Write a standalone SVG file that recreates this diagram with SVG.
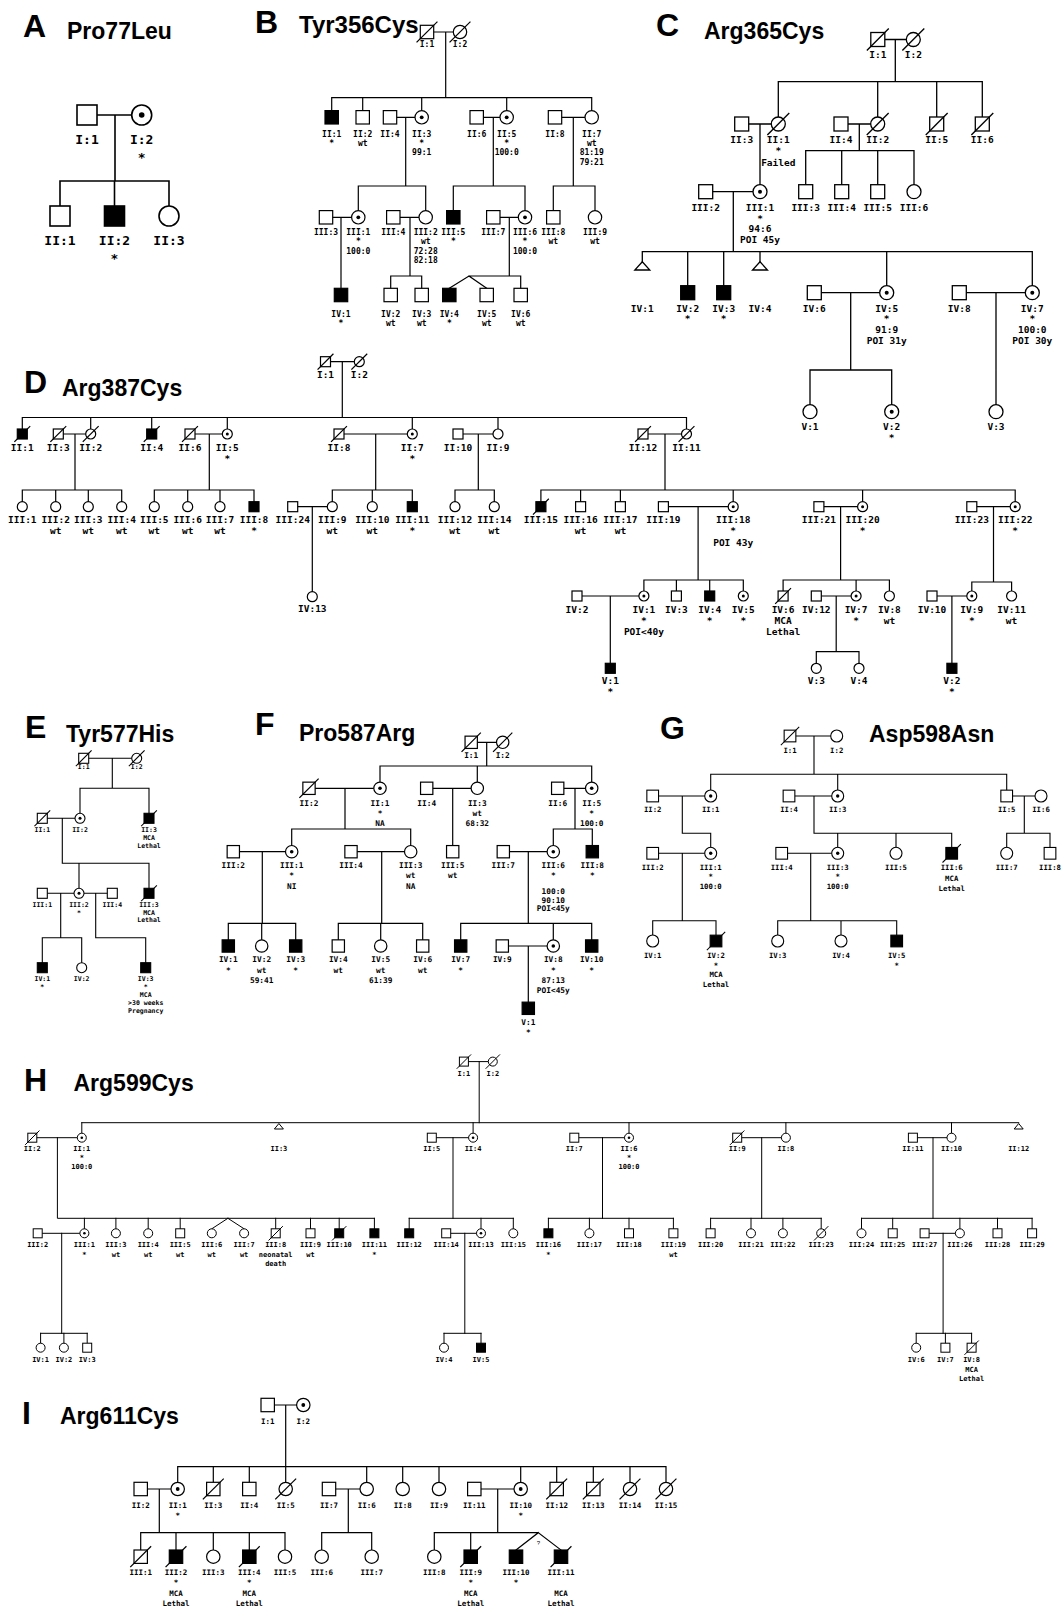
<svg xmlns="http://www.w3.org/2000/svg" width="1064" height="1613" viewBox="0 0 1064 1613">
<style>
text{font-family:"DejaVu Sans Mono","Liberation Mono",monospace;font-weight:bold;text-anchor:middle;fill:#000}
.hl,.hn{font-family:"Liberation Sans",Arial,sans-serif;text-anchor:start}
.hl{font-size:32px}
.hn{font-size:23px}
.q{font-family:"Liberation Sans",Arial,sans-serif;font-weight:normal;font-size:6px}
.ln{fill:none;stroke:#000;stroke-linecap:square}
.o{fill:#fff;stroke:#000}
.k{fill:#000;stroke:#000}
.d{fill:#000;stroke:none}
</style>
<defs>
<rect id="sqA" x="-10" y="-10" width="20" height="20"/>
<circle id="ciA" r="10"/>
<circle id="dtA" r="2.8"/>
<rect id="sqB" x="-6.7" y="-6.7" width="13.4" height="13.4"/>
<circle id="ciB" r="6.7"/>
<circle id="dtB" r="1.9"/>
<line id="slB" x1="-10" y1="10" x2="10" y2="-10"/>
<rect id="sqC" x="-7" y="-7" width="14" height="14"/>
<circle id="ciC" r="7"/>
<circle id="dtC" r="2"/>
<line id="slC" x1="-10.5" y1="10.5" x2="10.5" y2="-10.5"/>
<path id="triC" d="M0 0L7.5 8.3H-7.5Z"/>
<rect id="sqD" x="-5" y="-5" width="10" height="10"/>
<circle id="ciD" r="5"/>
<circle id="dtD" r="1.5"/>
<line id="slD" x1="-7.5" y1="7.5" x2="7.5" y2="-7.5"/>
<rect id="sqF" x="-6.15" y="-6.15" width="12.3" height="12.3"/>
<circle id="ciF" r="6.2"/>
<circle id="dtF" r="1.8"/>
<line id="slF" x1="-9.2" y1="9.2" x2="9.2" y2="-9.2"/>
<rect id="sqG" x="-5.85" y="-5.85" width="11.7" height="11.7"/>
<circle id="ciG" r="6"/>
<circle id="dtG" r="1.7"/>
<line id="slG" x1="-8.8" y1="8.8" x2="8.8" y2="-8.8"/>
<rect id="sqH" x="-4.5" y="-4.5" width="9" height="9"/>
<circle id="ciH" r="4.5"/>
<circle id="dtH" r="1.3"/>
<line id="slH" x1="-6.8" y1="6.8" x2="6.8" y2="-6.8"/>
<path id="triH" d="M0 0L4.5 5.5H-4.5Z"/>
</defs>
<rect width="1064" height="1613" fill="#fff"/>

<!-- ================= PANEL A ================= -->
<g id="panelA" style="stroke-width:1.6;font-size:13px">
<text class="hl" x="23" y="37">A</text>
<text class="hn" x="67" y="39">Pro77Leu</text>
<g id="A-links" class="ln"><path d="M97 115H131.7M115 115V181M60 181H169M60 181V206M114.5 181V206M169 181V206"/></g>
<g id="A-I1"><use href="#sqA" x="87" y="115" class="o"/><text x="87" y="144">I:1</text></g>
<g id="A-I2"><use href="#ciA" x="141.7" y="115" class="o"/><use href="#dtA" x="141.7" y="115" class="d"/><text x="141.7" y="144">I:2</text><text x="141.7" y="162">*</text></g>
<g id="A-II1"><use href="#sqA" x="60" y="216" class="o"/><text x="60" y="245">II:1</text></g>
<g id="A-II2"><use href="#sqA" x="114.5" y="216" class="k"/><text x="114.5" y="245">II:2</text><text x="114.5" y="263">*</text></g>
<g id="A-II3"><use href="#ciA" x="169" y="216" class="o"/><text x="169" y="245">II:3</text></g>
</g>

<!-- ================= PANEL B ================= -->
<g id="panelB" style="stroke-width:1.2;font-size:8px">
<text class="hl" x="255" y="33">B</text>
<text class="hn" x="299" y="33" style="font-size:24px">Tyr356Cys</text>
<g id="B-links" class="ln"><path d="M433.7 32H453.3M445.7 32V97.7M331.7 97.7H591.7M331.7 97.7V110.6M362.7 97.7V110.6M421.7 97.7V110.6M506.7 97.7V110.6M591.7 97.7V110.6M396.7 117.3H415M405.7 117.3V186M358.3 186H425.7M358.3 186V210.6M425.7 186V210.6M483.4 117.3H500M493.3 117.3V186M453.3 186H525M453.3 186V210.6M525 186V210.6M561.7 117.3H585M573.3 117.3V186M553.3 186H595M553.3 186V210.6M595 186V210.6M332.7 217.3H351.6M341 217.3V288.3M400 217.3H419M410 217.3V276M390.7 276H421.7M390.7 276V288.3M421.7 276V288.3M500 217.3H518.3M509.3 217.3V276M469 276H520.7M469 276L449.3 288.3M469 276L486.7 288.3M520.7 276V288.3"/></g>
<g id="B-I1"><use href="#sqB" x="427" y="32" class="o"/><use href="#slB" x="427" y="32" class="ln"/><text x="427" y="47.3">I:1</text></g>
<g id="B-I2"><use href="#ciB" x="460" y="32" class="o"/><use href="#slB" x="460" y="32" class="ln"/><text x="460" y="47.3">I:2</text></g>
<g id="B-II1"><use href="#sqB" x="331.7" y="117.3" class="k"/><text x="331.7" y="136.7">II:1</text><text x="331.7" y="146">*</text></g>
<g id="B-II2"><use href="#sqB" x="362.7" y="117.3" class="o"/><text x="362.7" y="136.7">II:2</text><text x="362.7" y="146">wt</text></g>
<g id="B-II4"><use href="#sqB" x="390" y="117.3" class="o"/><text x="390" y="136.7">II:4</text></g>
<g id="B-II3"><use href="#ciB" x="421.7" y="117.3" class="o"/><use href="#dtB" x="421.7" y="117.3" class="d"/><text x="421.7" y="136.7">II:3</text><text x="421.7" y="146">*</text><text x="421.7" y="155.3">99:1</text></g>
<g id="B-II6"><use href="#sqB" x="476.7" y="117.3" class="o"/><text x="476.7" y="136.7">II:6</text></g>
<g id="B-II5"><use href="#ciB" x="506.7" y="117.3" class="o"/><use href="#dtB" x="506.7" y="117.3" class="d"/><text x="506.7" y="136.7">II:5</text><text x="506.7" y="146">*</text><text x="506.7" y="155.3">100:0</text></g>
<g id="B-II8"><use href="#sqB" x="555" y="117.3" class="o"/><text x="555" y="136.7">II:8</text></g>
<g id="B-II7"><use href="#ciB" x="591.7" y="117.3" class="o"/><text x="591.7" y="136.7">II:7</text><text x="591.7" y="146">wt</text><text x="591.7" y="155.3">81:19</text><text x="591.7" y="164.6">79:21</text></g>
<g id="B-III3"><use href="#sqB" x="326" y="217.3" class="o"/><text x="326" y="235">III:3</text></g>
<g id="B-III1"><use href="#ciB" x="358.3" y="217.3" class="o"/><use href="#dtB" x="358.3" y="217.3" class="d"/><text x="358.3" y="235">III:1</text><text x="358.3" y="244.3">*</text><text x="358.3" y="253.6">100:0</text></g>
<g id="B-III4"><use href="#sqB" x="393.3" y="217.3" class="o"/><text x="393.3" y="235">III:4</text></g>
<g id="B-III2"><use href="#ciB" x="425.7" y="217.3" class="o"/><text x="425.7" y="235">III:2</text><text x="425.7" y="244.3">wt</text><text x="425.7" y="253.6">72:28</text><text x="425.7" y="262.9">82:18</text></g>
<g id="B-III5"><use href="#sqB" x="453.3" y="217.3" class="k"/><text x="453.3" y="235">III:5</text><text x="453.3" y="244.3">*</text></g>
<g id="B-III7"><use href="#sqB" x="493.3" y="217.3" class="o"/><text x="493.3" y="235">III:7</text></g>
<g id="B-III6"><use href="#ciB" x="525" y="217.3" class="o"/><use href="#dtB" x="525" y="217.3" class="d"/><text x="525" y="235">III:6</text><text x="525" y="244.3">*</text><text x="525" y="253.6">100:0</text></g>
<g id="B-III8"><use href="#sqB" x="553.3" y="217.3" class="o"/><text x="553.3" y="235">III:8</text><text x="553.3" y="244.3">wt</text></g>
<g id="B-III9"><use href="#ciB" x="595" y="217.3" class="o"/><text x="595" y="235">III:9</text><text x="595" y="244.3">wt</text></g>
<g id="B-IV1"><use href="#sqB" x="341" y="295" class="k"/><text x="341" y="316.7">IV:1</text><text x="341" y="325.5">*</text></g>
<g id="B-IV2"><use href="#sqB" x="390.7" y="295" class="o"/><text x="390.7" y="316.7">IV:2</text><text x="390.7" y="325.5">wt</text></g>
<g id="B-IV3"><use href="#sqB" x="421.7" y="295" class="o"/><text x="421.7" y="316.7">IV:3</text><text x="421.7" y="325.5">wt</text></g>
<g id="B-IV4"><use href="#sqB" x="449.3" y="295" class="k"/><text x="449.3" y="316.7">IV:4</text><text x="449.3" y="325.5">*</text></g>
<g id="B-IV5"><use href="#sqB" x="486.7" y="295" class="o"/><text x="486.7" y="316.7">IV:5</text><text x="486.7" y="325.5">wt</text></g>
<g id="B-IV6"><use href="#sqB" x="520.7" y="295" class="o"/><text x="520.7" y="316.7">IV:6</text><text x="520.7" y="325.5">wt</text></g>
</g>

<!-- ================= PANEL C ================= -->
<g id="panelC" style="stroke-width:1.3;font-size:9.5px">
<text class="hl" x="656" y="36">C</text>
<text class="hn" x="704" y="39">Arg365Cys</text>
<g id="C-links" class="ln"><path d="M884.8 39.5H906.3M895.3 39.5V81.7M778.3 81.7H982.3M778.3 81.7V117M877.7 81.7V117M936.7 81.7V117M982.3 81.7V117M748.7 124H771.3M760 124V184.7M848 124H870.7M859.3 124V150.7M805.7 150.7H914M805.7 150.7V184.7M841.7 150.7V184.7M877.7 150.7V184.7M914 150.7V184.7M712.7 191.7H753M733.3 191.7V251.7M642.3 251.7H1032.3M642.3 251.7V261.7M687.7 251.7V285.7M723.7 251.7V285.7M760 251.7V261.7M886.7 251.7V285.7M1032.3 251.7V285.7M821.3 292.7H879.7M850.7 292.7V370M810 370H891.7M810 370V404.7M891.7 370V404.7M966.3 292.7H1025.3M996 292.7V404.7"/></g>
<g id="C-I1"><use href="#sqC" x="877.8" y="39.5" class="o"/><use href="#slC" x="877.8" y="39.5" class="ln"/><text x="877.8" y="58.3">I:1</text></g>
<g id="C-I2"><use href="#ciC" x="913.3" y="39.5" class="o"/><use href="#slC" x="913.3" y="39.5" class="ln"/><text x="913.3" y="58.3">I:2</text></g>
<g id="C-II3"><use href="#sqC" x="741.7" y="124" class="o"/><text x="741.7" y="142.7">II:3</text></g>
<g id="C-II1"><use href="#ciC" x="778.3" y="124" class="o"/><use href="#slC" x="778.3" y="124" class="ln"/><text x="778.3" y="142.7">II:1</text><text x="778.3" y="154">*</text><text x="778.3" y="165.5">Failed</text></g>
<g id="C-II4"><use href="#sqC" x="841" y="124" class="o"/><text x="841" y="142.7">II:4</text></g>
<g id="C-II2"><use href="#ciC" x="877.7" y="124" class="o"/><use href="#slC" x="877.7" y="124" class="ln"/><text x="877.7" y="142.7">II:2</text></g>
<g id="C-II5"><use href="#sqC" x="936.7" y="124" class="o"/><use href="#slC" x="936.7" y="124" class="ln"/><text x="936.7" y="142.7">II:5</text></g>
<g id="C-II6"><use href="#sqC" x="982.3" y="124" class="o"/><use href="#slC" x="982.3" y="124" class="ln"/><text x="982.3" y="142.7">II:6</text></g>
<g id="C-III2"><use href="#sqC" x="705.7" y="191.7" class="o"/><text x="705.7" y="210.7">III:2</text></g>
<g id="C-III1"><use href="#ciC" x="760" y="191.7" class="o"/><use href="#dtC" x="760" y="191.7" class="d"/><text x="760" y="210.7">III:1</text><text x="760" y="221.5">*</text><text x="760" y="232.3">94:6</text><text x="760" y="243.3">POI 45y</text></g>
<g id="C-III3"><use href="#sqC" x="805.7" y="191.7" class="o"/><text x="805.7" y="210.7">III:3</text></g>
<g id="C-III4"><use href="#sqC" x="841.7" y="191.7" class="o"/><text x="841.7" y="210.7">III:4</text></g>
<g id="C-III5"><use href="#sqC" x="877.7" y="191.7" class="o"/><text x="877.7" y="210.7">III:5</text></g>
<g id="C-III6"><use href="#ciC" x="914" y="191.7" class="o"/><text x="914" y="210.7">III:6</text></g>
<g id="C-IV1"><use href="#triC" x="642.3" y="261.7" class="o"/><text x="642.3" y="311.7">IV:1</text></g>
<g id="C-IV2"><use href="#sqC" x="687.7" y="292.7" class="k"/><text x="687.7" y="311.7">IV:2</text><text x="687.7" y="322">*</text></g>
<g id="C-IV3"><use href="#sqC" x="723.7" y="292.7" class="k"/><text x="723.7" y="311.7">IV:3</text><text x="723.7" y="322">*</text></g>
<g id="C-IV4"><use href="#triC" x="760" y="261.7" class="o"/><text x="760" y="311.7">IV:4</text></g>
<g id="C-IV6"><use href="#sqC" x="814.3" y="292.7" class="o"/><text x="814.3" y="311.7">IV:6</text></g>
<g id="C-IV5"><use href="#ciC" x="886.7" y="292.7" class="o"/><use href="#dtC" x="886.7" y="292.7" class="d"/><text x="886.7" y="311.7">IV:5</text><text x="886.7" y="322">*</text><text x="886.7" y="333.3">91:9</text><text x="886.7" y="344.3">POI 31y</text></g>
<g id="C-IV8"><use href="#sqC" x="959.3" y="292.7" class="o"/><text x="959.3" y="311.7">IV:8</text></g>
<g id="C-IV7"><use href="#ciC" x="1032.3" y="292.7" class="o"/><use href="#dtC" x="1032.3" y="292.7" class="d"/><text x="1032.3" y="311.7">IV:7</text><text x="1032.3" y="322">*</text><text x="1032.3" y="333.3">100:0</text><text x="1032.3" y="344.3">POI 30y</text></g>
<g id="C-V1"><use href="#ciC" x="810" y="411.7" class="o"/><text x="810" y="430">V:1</text></g>
<g id="C-V2"><use href="#ciC" x="891.7" y="411.7" class="o"/><use href="#dtC" x="891.7" y="411.7" class="d"/><text x="891.7" y="430">V:2</text><text x="891.7" y="441">*</text></g>
<g id="C-V3"><use href="#ciC" x="996" y="411.7" class="o"/><text x="996" y="430">V:3</text></g>
</g>

<!-- ================= PANEL D ================= -->
<g id="panelD" style="stroke-width:1.2;font-size:9.5px">
<text class="hl" x="24" y="393">D</text>
<text class="hn" x="62" y="396">Arg387Cys</text>
<g id="D-links" class="ln"><path d="M330.5 361.7H354.3M342.3 361.7V417.5M22.3 417.5H686.5M22.3 417.5V429M90.7 417.5V429M151.7 417.5V429M227.3 417.5V429M412.3 417.5V429M498 417.5V429M686.5 417.5V429M63.3 434H85.7M75 434V490M22.3 490H121.7M22.3 490V501.7M55.7 490V501.7M88.3 490V501.7M121.7 490V501.7M195 434H222.3M209.3 434V490M154.3 490H254M154.3 490V501.7M187.7 490V501.7M220 490V501.7M254 490V501.7M344 434H407.3M375.7 434V490M332.3 490H412.3M332.3 490V501.7M372.3 490V501.7M412.3 490V501.7M463 434H493M478.3 434V490M455 490H494.3M455 490V501.7M494.3 490V501.7M648 434H681.5M665 434V490M540.9 490H1015.2M540.9 490V501.7M580.6 490V501.7M620.4 490V501.7M733.2 490V501.7M862.6 490V501.7M1015.2 490V501.7M297.7 506.7H327.3M312.3 506.7V591.7M668.4 506.7H728.2M698.1 506.7V580M643.9 580H743.3M643.9 580V591M676.4 580V591M709.7 580V591M743.3 580V591M823.9 506.7H857.6M840.6 506.7V580M783.1 580H889.4M783.1 580V591M856.1 580V591M889.4 580V591M976.8 506.7H1010.2M993.5 506.7V582M971.8 582H1011.6M971.8 582V591M1011.6 582V591M582 596H638.9M610.3 596V663.3M821.3 596H851.1M836.2 596V651.7M816.3 651.7H859M816.3 651.7V663.3M859 651.7V663.3M937 596H966.8M951.9 596V663.3"/></g>
<g id="D-I1"><use href="#sqD" x="325.5" y="361.7" class="o"/><use href="#slD" x="325.5" y="361.7" class="ln"/><text x="325.5" y="378">I:1</text></g>
<g id="D-I2"><use href="#ciD" x="359.3" y="361.7" class="o"/><use href="#slD" x="359.3" y="361.7" class="ln"/><text x="359.3" y="378">I:2</text></g>
<g id="D-II1"><use href="#sqD" x="22.3" y="434" class="k"/><use href="#slD" x="22.3" y="434" class="ln"/><text x="22.3" y="450.7">II:1</text></g>
<g id="D-II3"><use href="#sqD" x="58.3" y="434" class="o"/><use href="#slD" x="58.3" y="434" class="ln"/><text x="58.3" y="450.7">II:3</text></g>
<g id="D-II2"><use href="#ciD" x="90.7" y="434" class="o"/><use href="#slD" x="90.7" y="434" class="ln"/><text x="90.7" y="450.7">II:2</text></g>
<g id="D-II4"><use href="#sqD" x="151.7" y="434" class="k"/><use href="#slD" x="151.7" y="434" class="ln"/><text x="151.7" y="450.7">II:4</text></g>
<g id="D-II6"><use href="#sqD" x="190" y="434" class="o"/><use href="#slD" x="190" y="434" class="ln"/><text x="190" y="450.7">II:6</text></g>
<g id="D-II5"><use href="#ciD" x="227.3" y="434" class="o"/><use href="#dtD" x="227.3" y="434" class="d"/><text x="227.3" y="450.7">II:5</text><text x="227.3" y="461.5">*</text></g>
<g id="D-II8"><use href="#sqD" x="339" y="434" class="o"/><use href="#slD" x="339" y="434" class="ln"/><text x="339" y="450.7">II:8</text></g>
<g id="D-II7"><use href="#ciD" x="412.3" y="434" class="o"/><use href="#dtD" x="412.3" y="434" class="d"/><text x="412.3" y="450.7">II:7</text><text x="412.3" y="461.5">*</text></g>
<g id="D-II10"><use href="#sqD" x="458" y="434" class="o"/><text x="458" y="450.7">II:10</text></g>
<g id="D-II9"><use href="#ciD" x="498" y="434" class="o"/><text x="498" y="450.7">II:9</text></g>
<g id="D-II12"><use href="#sqD" x="643" y="434" class="o"/><use href="#slD" x="643" y="434" class="ln"/><text x="643" y="450.7">II:12</text></g>
<g id="D-II11"><use href="#ciD" x="686.5" y="434" class="o"/><use href="#slD" x="686.5" y="434" class="ln"/><text x="686.5" y="450.7">II:11</text></g>
<g id="D-III1"><use href="#ciD" x="22.3" y="506.7" class="o"/><text x="22.3" y="522.7">III:1</text></g>
<g id="D-III2"><use href="#ciD" x="55.7" y="506.7" class="o"/><text x="55.7" y="522.7">III:2</text><text x="55.7" y="534">wt</text></g>
<g id="D-III3"><use href="#ciD" x="88.3" y="506.7" class="o"/><text x="88.3" y="522.7">III:3</text><text x="88.3" y="534">wt</text></g>
<g id="D-III4"><use href="#ciD" x="121.7" y="506.7" class="o"/><text x="121.7" y="522.7">III:4</text><text x="121.7" y="534">wt</text></g>
<g id="D-III5"><use href="#ciD" x="154.3" y="506.7" class="o"/><text x="154.3" y="522.7">III:5</text><text x="154.3" y="534">wt</text></g>
<g id="D-III6"><use href="#ciD" x="187.7" y="506.7" class="o"/><text x="187.7" y="522.7">III:6</text><text x="187.7" y="534">wt</text></g>
<g id="D-III7"><use href="#ciD" x="220" y="506.7" class="o"/><text x="220" y="522.7">III:7</text><text x="220" y="534">wt</text></g>
<g id="D-III8"><use href="#sqD" x="254" y="506.7" class="k"/><text x="254" y="522.7">III:8</text><text x="254" y="534">*</text></g>
<g id="D-III24"><use href="#sqD" x="292.7" y="506.7" class="o"/><text x="292.7" y="522.7">III:24</text></g>
<g id="D-III9"><use href="#ciD" x="332.3" y="506.7" class="o"/><text x="332.3" y="522.7">III:9</text><text x="332.3" y="534">wt</text></g>
<g id="D-III10"><use href="#ciD" x="372.3" y="506.7" class="o"/><text x="372.3" y="522.7">III:10</text><text x="372.3" y="534">wt</text></g>
<g id="D-III11"><use href="#sqD" x="412.3" y="506.7" class="k"/><text x="412.3" y="522.7">III:11</text><text x="412.3" y="534">*</text></g>
<g id="D-III12"><use href="#ciD" x="455" y="506.7" class="o"/><text x="455" y="522.7">III:12</text><text x="455" y="534">wt</text></g>
<g id="D-III14"><use href="#ciD" x="494.3" y="506.7" class="o"/><text x="494.3" y="522.7">III:14</text><text x="494.3" y="534">wt</text></g>
<g id="D-III15"><use href="#sqD" x="540.9" y="506.7" class="k"/><use href="#slD" x="540.9" y="506.7" class="ln"/><text x="540.9" y="522.7">III:15</text></g>
<g id="D-III16"><use href="#sqD" x="580.6" y="506.7" class="o"/><text x="580.6" y="522.7">III:16</text><text x="580.6" y="534">wt</text></g>
<g id="D-III17"><use href="#sqD" x="620.4" y="506.7" class="o"/><text x="620.4" y="522.7">III:17</text><text x="620.4" y="534">wt</text></g>
<g id="D-III19"><use href="#sqD" x="663.4" y="506.7" class="o"/><text x="663.4" y="522.7">III:19</text></g>
<g id="D-III18"><use href="#ciD" x="733.2" y="506.7" class="o"/><use href="#dtD" x="733.2" y="506.7" class="d"/><text x="733.2" y="522.7">III:18</text><text x="733.2" y="534">*</text><text x="733.2" y="545.7">POI 43y</text></g>
<g id="D-III21"><use href="#sqD" x="818.9" y="506.7" class="o"/><text x="818.9" y="522.7">III:21</text></g>
<g id="D-III20"><use href="#ciD" x="862.6" y="506.7" class="o"/><use href="#dtD" x="862.6" y="506.7" class="d"/><text x="862.6" y="522.7">III:20</text><text x="862.6" y="534">*</text></g>
<g id="D-III23"><use href="#sqD" x="971.8" y="506.7" class="o"/><text x="971.8" y="522.7">III:23</text></g>
<g id="D-III22"><use href="#ciD" x="1015.2" y="506.7" class="o"/><use href="#dtD" x="1015.2" y="506.7" class="d"/><text x="1015.2" y="522.7">III:22</text><text x="1015.2" y="534">*</text></g>
<g id="D-IV13"><use href="#ciD" x="312.3" y="596.7" class="o"/><text x="312.3" y="612.3">IV:13</text></g>
<g id="D-IV2"><use href="#sqD" x="577" y="596" class="o"/><text x="577" y="612.7">IV:2</text></g>
<g id="D-IV1"><use href="#ciD" x="643.9" y="596" class="o"/><use href="#dtD" x="643.9" y="596" class="d"/><text x="643.9" y="612.7">IV:1</text><text x="643.9" y="623.5">*</text><text x="643.9" y="635">POI&lt;40y</text></g>
<g id="D-IV3"><use href="#sqD" x="676.4" y="596" class="o"/><text x="676.4" y="612.7">IV:3</text></g>
<g id="D-IV4"><use href="#sqD" x="709.7" y="596" class="k"/><text x="709.7" y="612.7">IV:4</text><text x="709.7" y="623.5">*</text></g>
<g id="D-IV5"><use href="#ciD" x="743.3" y="596" class="o"/><use href="#dtD" x="743.3" y="596" class="d"/><text x="743.3" y="612.7">IV:5</text><text x="743.3" y="623.5">*</text></g>
<g id="D-IV6"><use href="#sqD" x="783.1" y="596" class="o"/><use href="#slD" x="783.1" y="596" class="ln"/><text x="783.1" y="612.7">IV:6</text><text x="783.1" y="623.5">MCA</text><text x="783.1" y="635">Lethal</text></g>
<g id="D-IV12"><use href="#sqD" x="816.3" y="596" class="o"/><text x="816.3" y="612.7">IV:12</text></g>
<g id="D-IV7"><use href="#ciD" x="856.1" y="596" class="o"/><use href="#dtD" x="856.1" y="596" class="d"/><text x="856.1" y="612.7">IV:7</text><text x="856.1" y="623.5">*</text></g>
<g id="D-IV8"><use href="#ciD" x="889.4" y="596" class="o"/><text x="889.4" y="612.7">IV:8</text><text x="889.4" y="623.5">wt</text></g>
<g id="D-IV10"><use href="#sqD" x="932" y="596" class="o"/><text x="932" y="612.7">IV:10</text></g>
<g id="D-IV9"><use href="#ciD" x="971.8" y="596" class="o"/><use href="#dtD" x="971.8" y="596" class="d"/><text x="971.8" y="612.7">IV:9</text><text x="971.8" y="623.5">*</text></g>
<g id="D-IV11"><use href="#ciD" x="1011.6" y="596" class="o"/><text x="1011.6" y="612.7">IV:11</text><text x="1011.6" y="623.5">wt</text></g>
<g id="D-V1"><use href="#sqD" x="610.3" y="668.3" class="k"/><text x="610.3" y="684.3">V:1</text><text x="610.3" y="695">*</text></g>
<g id="D-V3"><use href="#ciD" x="816.3" y="668.3" class="o"/><text x="816.3" y="684.3">V:3</text></g>
<g id="D-V4"><use href="#ciD" x="859" y="668.3" class="o"/><text x="859" y="684.3">V:4</text></g>
<g id="D-V2"><use href="#sqD" x="951.9" y="668.3" class="k"/><text x="951.9" y="684.3">V:2</text><text x="951.9" y="695">*</text></g>
</g>

<!-- ================= PANEL E ================= -->
<g id="panelE" style="stroke-width:1.1;font-size:6.5px">
<text class="hl" x="25" y="738">E</text>
<text class="hn" x="66" y="742">Tyr577His</text>
<g id="E-links" class="ln"><path d="M88.7 758.3H131.7M112.3 758.3V788.3M80 788.3H149M80 788.3V813.3M149 788.3V813.3M47.3 818.3H75M62.3 818.3V863.3M62.3 863.3H149M79 863.3V888.3M149 863.3V888.3M47.3 893.3H74M60.7 893.3V937.7M42.3 937.7H81.7M42.3 937.7V962.7M81.7 937.7V962.7M84 893.3H107.3M95.7 893.3V937.7H145.7V962.7"/></g>
<g id="E-I1"><use href="#sqD" x="83.7" y="758.3" class="o"/><use href="#slD" x="83.7" y="758.3" class="ln"/><text x="83.7" y="769">I:1</text></g>
<g id="E-I2"><use href="#ciD" x="136.7" y="758.3" class="o"/><use href="#slD" x="136.7" y="758.3" class="ln"/><text x="136.7" y="769">I:2</text></g>
<g id="E-II1"><use href="#sqD" x="42.3" y="818.3" class="o"/><use href="#slD" x="42.3" y="818.3" class="ln"/><text x="42.3" y="832.3">II:1</text></g>
<g id="E-II2"><use href="#ciD" x="80" y="818.3" class="o"/><use href="#dtD" x="80" y="818.3" class="d"/><text x="80" y="832.3">II:2</text></g>
<g id="E-II3"><use href="#sqD" x="149" y="818.3" class="k"/><use href="#slD" x="149" y="818.3" class="ln"/><text x="149" y="832.3">II:3</text><text x="149" y="840">MCA</text><text x="149" y="847.7">Lethal</text></g>
<g id="E-III1"><use href="#sqD" x="42.3" y="893.3" class="o"/><text x="42.3" y="906.7">III:1</text></g>
<g id="E-III2"><use href="#ciD" x="79" y="893.3" class="o"/><use href="#dtD" x="79" y="893.3" class="d"/><text x="79" y="906.7">III:2</text><text x="79" y="915">*</text></g>
<g id="E-III4"><use href="#sqD" x="112.3" y="893.3" class="o"/><text x="112.3" y="906.7">III:4</text></g>
<g id="E-III3"><use href="#sqD" x="149" y="893.3" class="k"/><use href="#slD" x="149" y="893.3" class="ln"/><text x="149" y="906.7">III:3</text><text x="149" y="914.5">MCA</text><text x="149" y="922.3">Lethal</text></g>
<g id="E-IV1"><use href="#sqD" x="42.3" y="967.7" class="k"/><text x="42.3" y="980.7">IV:1</text><text x="42.3" y="989">*</text></g>
<g id="E-IV2"><use href="#ciD" x="81.7" y="967.7" class="o"/><text x="81.7" y="980.7">IV:2</text></g>
<g id="E-IV3"><use href="#sqD" x="145.7" y="967.7" class="k"/><text x="145.7" y="980.7">IV:3</text><text x="145.7" y="989">*</text><text x="145.7" y="996.7">MCA</text><text x="145.7" y="1005">&gt;30 weeks</text><text x="145.7" y="1013.3">Pregnancy</text></g>
</g>

<!-- ================= PANEL F ================= -->
<g id="panelF" style="stroke-width:1.2;font-size:7.8px">
<text class="hl" x="255" y="735">F</text>
<text class="hn" x="299" y="741">Pro587Arg</text>
<g id="F-links" class="ln"><path d="M477.4 742.3H496.5M486.7 742.3V766M380 766H591.7M380 766V782.1M477.3 766V782.1M591.7 766V782.1M315.2 788.3H373.8M345 788.3V829M291.7 829H410.7M291.7 829V845.5M410.7 829V845.5M432.9 788.3H471.1M452.7 788.3V845.5M563.9 788.3H585.5M575 788.3V829M553.3 829H592.3M553.3 829V845.5M592.3 829V845.5M239.5 851.7H285.5M262.3 851.7V923.3M228.3 923.3H295.7M228.3 923.3V939.8M261.7 923.3V939.8M295.7 923.3V939.8M357.2 851.7H404.5M381.7 851.7V923.3M338.3 923.3H422.7M338.3 923.3V939.8M380.7 923.3V939.8M422.7 923.3V939.8M509.5 851.7H547.1M528.3 851.7V923.3M460.7 923.3H591.7M460.7 923.3V939.8M553.3 923.3V939.8M591.7 923.3V939.8M508.5 946H547.1M528.3 946V1002.1"/></g>
<g id="F-I1"><use href="#sqF" x="471.2" y="742.3" class="o"/><use href="#slF" x="471.2" y="742.3" class="ln"/><text x="471.2" y="758.3">I:1</text></g>
<g id="F-I2"><use href="#ciF" x="502.7" y="742.3" class="o"/><use href="#slF" x="502.7" y="742.3" class="ln"/><text x="502.7" y="758.3">I:2</text></g>
<g id="F-II2"><use href="#sqF" x="309" y="788.3" class="o"/><use href="#slF" x="309" y="788.3" class="ln"/><text x="309" y="806">II:2</text></g>
<g id="F-II1"><use href="#ciF" x="380" y="788.3" class="o"/><use href="#dtF" x="380" y="788.3" class="d"/><text x="380" y="806">II:1</text><text x="380" y="816">*</text><text x="380" y="826">NA</text></g>
<g id="F-II4"><use href="#sqF" x="426.7" y="788.3" class="o"/><text x="426.7" y="806">II:4</text></g>
<g id="F-II3"><use href="#ciF" x="477.3" y="788.3" class="o"/><text x="477.3" y="806">II:3</text><text x="477.3" y="816">wt</text><text x="477.3" y="826">68:32</text></g>
<g id="F-II6"><use href="#sqF" x="557.7" y="788.3" class="o"/><text x="557.7" y="806">II:6</text></g>
<g id="F-II5"><use href="#ciF" x="591.7" y="788.3" class="o"/><use href="#dtF" x="591.7" y="788.3" class="d"/><text x="591.7" y="806">II:5</text><text x="591.7" y="816">*</text><text x="591.7" y="826">100:0</text></g>
<g id="F-III2"><use href="#sqF" x="233.3" y="851.7" class="o"/><text x="233.3" y="868">III:2</text></g>
<g id="F-III1"><use href="#ciF" x="291.7" y="851.7" class="o"/><use href="#dtF" x="291.7" y="851.7" class="d"/><text x="291.7" y="868">III:1</text><text x="291.7" y="878">*</text><text x="291.7" y="889">NI</text></g>
<g id="F-III4"><use href="#sqF" x="351" y="851.7" class="o"/><text x="351" y="868">III:4</text></g>
<g id="F-III3"><use href="#ciF" x="410.7" y="851.7" class="o"/><text x="410.7" y="868">III:3</text><text x="410.7" y="878">wt</text><text x="410.7" y="889">NA</text></g>
<g id="F-III5"><use href="#sqF" x="452.7" y="851.7" class="o"/><text x="452.7" y="868">III:5</text><text x="452.7" y="878">wt</text></g>
<g id="F-III7"><use href="#sqF" x="503.3" y="851.7" class="o"/><text x="503.3" y="868">III:7</text></g>
<g id="F-III6"><use href="#ciF" x="553.3" y="851.7" class="o"/><use href="#dtF" x="553.3" y="851.7" class="d"/><text x="553.3" y="868">III:6</text><text x="553.3" y="878">*</text><text x="553.3" y="894">100:0</text><text x="553.3" y="902.5">90:10</text><text x="553.3" y="910.5">POI&lt;45y</text></g>
<g id="F-III8"><use href="#sqF" x="592.3" y="851.7" class="k"/><text x="592.3" y="868">III:8</text><text x="592.3" y="878">*</text></g>
<g id="F-IV1"><use href="#sqF" x="228.3" y="946" class="k"/><text x="228.3" y="962.3">IV:1</text><text x="228.3" y="972.5">*</text></g>
<g id="F-IV2"><use href="#ciF" x="261.7" y="946" class="o"/><text x="261.7" y="962.3">IV:2</text><text x="261.7" y="972.5">wt</text><text x="261.7" y="982.7">59:41</text></g>
<g id="F-IV3"><use href="#sqF" x="295.7" y="946" class="k"/><text x="295.7" y="962.3">IV:3</text><text x="295.7" y="972.5">*</text></g>
<g id="F-IV4"><use href="#sqF" x="338.3" y="946" class="o"/><text x="338.3" y="962.3">IV:4</text><text x="338.3" y="972.5">wt</text></g>
<g id="F-IV5"><use href="#ciF" x="380.7" y="946" class="o"/><text x="380.7" y="962.3">IV:5</text><text x="380.7" y="972.5">wt</text><text x="380.7" y="982.7">61:39</text></g>
<g id="F-IV6"><use href="#sqF" x="422.7" y="946" class="o"/><text x="422.7" y="962.3">IV:6</text><text x="422.7" y="972.5">wt</text></g>
<g id="F-IV7"><use href="#sqF" x="460.7" y="946" class="k"/><text x="460.7" y="962.3">IV:7</text><text x="460.7" y="972.5">*</text></g>
<g id="F-IV9"><use href="#sqF" x="502.3" y="946" class="o"/><text x="502.3" y="962.3">IV:9</text></g>
<g id="F-IV8"><use href="#ciF" x="553.3" y="946" class="o"/><use href="#dtF" x="553.3" y="946" class="d"/><text x="553.3" y="962.3">IV:8</text><text x="553.3" y="972.5">*</text><text x="553.3" y="982.7">87:13</text><text x="553.3" y="992.7">POI&lt;45y</text></g>
<g id="F-IV10"><use href="#sqF" x="591.7" y="946" class="k"/><text x="591.7" y="962.3">IV:10</text><text x="591.7" y="972.5">*</text></g>
<g id="F-V1"><use href="#sqF" x="528.3" y="1008.3" class="k"/><text x="528.3" y="1025">V:1</text><text x="528.3" y="1035">*</text></g>
</g>

<!-- ================= PANEL G ================= -->
<g id="panelG" style="stroke-width:1.1;font-size:7.3px">
<text class="hl" x="660" y="739">G</text>
<text class="hn" x="869" y="742">Asp598Asn</text>
<g id="G-links" class="ln"><path d="M795.9 736H830.7M814 736V774.3M710.7 774.3H1006.7M710.7 774.3V790M837.7 774.3V790M1006.7 774.3V790M658.6 796H704.7M682.3 796V833.3H710.7V847.3M794.9 796H831.7M814 796V833.3M814 833.3H951.7M837.7 833.3V847.4M896 833.3V847.4M951.7 833.3V847.4M1012.6 796H1035M1024.3 796V833.3M1006.7 833.3H1050M1006.7 833.3V847.4M1050 833.3V847.4M658.6 853.3H704.7M682.3 853.3V920.7M652.7 920.7H716M652.7 920.7V935M716 920.7V935M787.6 853.3H831.7M810.7 853.3V920.7M777.7 920.7H896.7M777.7 920.7V935M841 920.7V935M896.7 920.7V935"/></g>
<g id="G-I1"><use href="#sqG" x="790" y="736" class="o"/><use href="#slG" x="790" y="736" class="ln"/><text x="790" y="752.7">I:1</text></g>
<g id="G-I2"><use href="#ciG" x="836.7" y="736" class="o"/><text x="836.7" y="752.7">I:2</text></g>
<g id="G-II2"><use href="#sqG" x="652.7" y="796" class="o"/><text x="652.7" y="811.7">II:2</text></g>
<g id="G-II1"><use href="#ciG" x="710.7" y="796" class="o"/><use href="#dtG" x="710.7" y="796" class="d"/><text x="710.7" y="811.7">II:1</text></g>
<g id="G-II4"><use href="#sqG" x="789" y="796" class="o"/><text x="789" y="811.7">II:4</text></g>
<g id="G-II3"><use href="#ciG" x="837.7" y="796" class="o"/><use href="#dtG" x="837.7" y="796" class="d"/><text x="837.7" y="811.7">II:3</text></g>
<g id="G-II5"><use href="#sqG" x="1006.7" y="796" class="o"/><text x="1006.7" y="811.7">II:5</text></g>
<g id="G-II6"><use href="#ciG" x="1041" y="796" class="o"/><text x="1041" y="811.7">II:6</text></g>
<g id="G-III2"><use href="#sqG" x="652.7" y="853.3" class="o"/><text x="652.7" y="869.5">III:2</text></g>
<g id="G-III1"><use href="#ciG" x="710.7" y="853.3" class="o"/><use href="#dtG" x="710.7" y="853.3" class="d"/><text x="710.7" y="869.5">III:1</text><text x="710.7" y="879">*</text><text x="710.7" y="889">100:0</text></g>
<g id="G-III4"><use href="#sqG" x="781.7" y="853.3" class="o"/><text x="781.7" y="869.5">III:4</text></g>
<g id="G-III3"><use href="#ciG" x="837.7" y="853.3" class="o"/><use href="#dtG" x="837.7" y="853.3" class="d"/><text x="837.7" y="869.5">III:3</text><text x="837.7" y="879">*</text><text x="837.7" y="889">100:0</text></g>
<g id="G-III5"><use href="#ciG" x="896" y="853.3" class="o"/><text x="896" y="869.5">III:5</text></g>
<g id="G-III6"><use href="#sqG" x="951.7" y="853.3" class="k"/><use href="#slG" x="951.7" y="853.3" class="ln"/><text x="951.7" y="869.5">III:6</text><text x="951.7" y="881">MCA</text><text x="951.7" y="890.5">Lethal</text></g>
<g id="G-III7"><use href="#ciG" x="1006.7" y="853.3" class="o"/><text x="1006.7" y="869.5">III:7</text></g>
<g id="G-III8"><use href="#sqG" x="1050" y="853.3" class="o"/><text x="1050" y="869.5">III:8</text></g>
<g id="G-IV1"><use href="#ciG" x="652.7" y="941" class="o"/><text x="652.7" y="958.3">IV:1</text></g>
<g id="G-IV2"><use href="#sqG" x="716" y="941" class="k"/><use href="#slG" x="716" y="941" class="ln"/><text x="716" y="958.3">IV:2</text><text x="716" y="968">*</text><text x="716" y="977.3">MCA</text><text x="716" y="987.3">Lethal</text></g>
<g id="G-IV3"><use href="#ciG" x="777.7" y="941" class="o"/><text x="777.7" y="958.3">IV:3</text></g>
<g id="G-IV4"><use href="#ciG" x="841" y="941" class="o"/><text x="841" y="958.3">IV:4</text></g>
<g id="G-IV5"><use href="#sqG" x="896.7" y="941" class="k"/><text x="896.7" y="958.3">IV:5</text><text x="896.7" y="968">*</text></g>
</g>

<!-- ================= PANEL H ================= -->
<g id="panelH" style="stroke-width:1;font-size:7px">
<text class="hl" x="24" y="1091">H</text>
<text class="hn" x="73.5" y="1091">Arg599Cys</text>
<g id="H-links" class="ln"><path d="M468.4 1061.6H488.3M479.2 1061.6V1122.7M81.8 1122.7H1018.7M81.8 1122.7V1133.2M473.1 1122.7V1133.2M629 1122.7V1133.2M785.9 1122.7V1133.2M951.5 1122.7V1133.2M36.8 1137.7H77.3M57.4 1137.7V1218.3H374.4M84.4 1218.3V1228.8M115.9 1218.3V1228.8M148.2 1218.3V1228.8M180.2 1218.3V1228.8M275.7 1218.3V1228.8M310.5 1218.3V1228.8M339.2 1218.3V1228.8M374.4 1218.3V1228.8M227.9 1218.3L211.8 1228.8M227.9 1218.3L244.1 1228.8M436.3 1137.7H468.6M453 1137.7V1218.3M409.2 1218.3H513.3M409.2 1218.3V1228.8M481 1218.3V1228.8M513.3 1218.3V1228.8M578.8 1137.7H624.5M602.5 1137.7V1218.3M548.4 1218.3H673.4M548.4 1218.3V1228.8M589.4 1218.3V1228.8M629 1218.3V1228.8M673.4 1218.3V1228.8M741.7 1137.7H781.4M761.7 1137.7V1218.3M710.6 1218.3H821.2M710.6 1218.3V1228.8M751 1218.3V1228.8M782.9 1218.3V1228.8M821.2 1218.3V1228.8M917.4 1137.7H947M933 1137.7V1218.3M861.5 1218.3H1032.1M861.5 1218.3V1228.8M892.7 1218.3V1228.8M959.9 1218.3V1228.8M997.5 1218.3V1228.8M1032.1 1218.3V1228.8M42.2 1233.3H79.9M61.7 1233.3V1333.3M40.6 1333.3H87.2M40.6 1333.3V1343.2M63.9 1333.3V1343.2M87.2 1333.3V1343.2M450.7 1233.3H476.5M464.8 1233.3V1333.3M444 1333.3H481M444 1333.3V1343.2M481 1333.3V1343.2M929.1 1233.3H955.4M943.1 1233.3V1333.3M916.2 1333.3H971.6M916.2 1333.3V1343.2M945.4 1333.3V1343.2M971.6 1333.3V1343.2"/></g>
<g id="H-I1"><use href="#sqH" x="463.9" y="1061.6" class="o"/><use href="#slH" x="463.9" y="1061.6" class="ln"/><text x="463.9" y="1076">I:1</text></g>
<g id="H-I2"><use href="#ciH" x="492.8" y="1061.6" class="o"/><use href="#slH" x="492.8" y="1061.6" class="ln"/><text x="492.8" y="1076">I:2</text></g>
<g id="H-II2"><use href="#sqH" x="32.3" y="1137.7" class="o"/><use href="#slH" x="32.3" y="1137.7" class="ln"/><text x="32.3" y="1150.7">II:2</text></g>
<g id="H-II1"><use href="#ciH" x="81.8" y="1137.7" class="o"/><use href="#dtH" x="81.8" y="1137.7" class="d"/><text x="81.8" y="1150.7">II:1</text><text x="81.8" y="1160">*</text><text x="81.8" y="1169.3">100:0</text></g>
<g id="H-II3"><use href="#triH" x="278.9" y="1123.5" class="o"/><text x="278.9" y="1150.7">II:3</text></g>
<g id="H-II5"><use href="#sqH" x="431.8" y="1137.7" class="o"/><text x="431.8" y="1150.7">II:5</text></g>
<g id="H-II4"><use href="#ciH" x="473.1" y="1137.7" class="o"/><use href="#dtH" x="473.1" y="1137.7" class="d"/><text x="473.1" y="1150.7">II:4</text></g>
<g id="H-II7"><use href="#sqH" x="574.3" y="1137.7" class="o"/><text x="574.3" y="1150.7">II:7</text></g>
<g id="H-II6"><use href="#ciH" x="629" y="1137.7" class="o"/><use href="#dtH" x="629" y="1137.7" class="d"/><text x="629" y="1150.7">II:6</text><text x="629" y="1160">*</text><text x="629" y="1169.3">100:0</text></g>
<g id="H-II9"><use href="#sqH" x="737.2" y="1137.7" class="o"/><use href="#slH" x="737.2" y="1137.7" class="ln"/><text x="737.2" y="1150.7">II:9</text></g>
<g id="H-II8"><use href="#ciH" x="785.9" y="1137.7" class="o"/><text x="785.9" y="1150.7">II:8</text></g>
<g id="H-II11"><use href="#sqH" x="912.9" y="1137.7" class="o"/><text x="912.9" y="1150.7">II:11</text></g>
<g id="H-II10"><use href="#ciH" x="951.5" y="1137.7" class="o"/><text x="951.5" y="1150.7">II:10</text></g>
<g id="H-II12"><use href="#triH" x="1018.7" y="1123.5" class="o"/><text x="1018.7" y="1150.7">II:12</text></g>
<g id="H-III2"><use href="#sqH" x="37.7" y="1233.3" class="o"/><text x="37.7" y="1247.3">III:2</text></g>
<g id="H-III1"><use href="#ciH" x="84.4" y="1233.3" class="o"/><use href="#dtH" x="84.4" y="1233.3" class="d"/><text x="84.4" y="1247.3">III:1</text><text x="84.4" y="1256.7">*</text></g>
<g id="H-III3"><use href="#ciH" x="115.9" y="1233.3" class="o"/><text x="115.9" y="1247.3">III:3</text><text x="115.9" y="1256.7">wt</text></g>
<g id="H-III4"><use href="#ciH" x="148.2" y="1233.3" class="o"/><text x="148.2" y="1247.3">III:4</text><text x="148.2" y="1256.7">wt</text></g>
<g id="H-III5"><use href="#sqH" x="180.2" y="1233.3" class="o"/><text x="180.2" y="1247.3">III:5</text><text x="180.2" y="1256.7">wt</text></g>
<g id="H-III6"><use href="#ciH" x="211.8" y="1233.3" class="o"/><text x="211.8" y="1247.3">III:6</text><text x="211.8" y="1256.7">wt</text></g>
<g id="H-III7"><use href="#ciH" x="244.1" y="1233.3" class="o"/><text x="244.1" y="1247.3">III:7</text><text x="244.1" y="1256.7">wt</text></g>
<g id="H-III8"><use href="#sqH" x="275.7" y="1233.3" class="o"/><use href="#slH" x="275.7" y="1233.3" class="ln"/><text x="275.7" y="1247.3">III:8</text><text x="275.7" y="1256.7">neonatal</text><text x="275.7" y="1266">death</text></g>
<g id="H-III9"><use href="#sqH" x="310.5" y="1233.3" class="o"/><text x="310.5" y="1247.3">III:9</text><text x="310.5" y="1256.7">wt</text></g>
<g id="H-III10"><use href="#sqH" x="339.2" y="1233.3" class="k"/><use href="#slH" x="339.2" y="1233.3" class="ln"/><text x="339.2" y="1247.3">III:10</text></g>
<g id="H-III11"><use href="#sqH" x="374.4" y="1233.3" class="k"/><text x="374.4" y="1247.3">III:11</text><text x="374.4" y="1256.7">*</text></g>
<g id="H-III12"><use href="#sqH" x="409.2" y="1233.3" class="k"/><text x="409.2" y="1247.3">III:12</text></g>
<g id="H-III14"><use href="#sqH" x="446.2" y="1233.3" class="o"/><text x="446.2" y="1247.3">III:14</text></g>
<g id="H-III13"><use href="#ciH" x="481" y="1233.3" class="o"/><use href="#dtH" x="481" y="1233.3" class="d"/><text x="481" y="1247.3">III:13</text></g>
<g id="H-III15"><use href="#ciH" x="513.3" y="1233.3" class="o"/><text x="513.3" y="1247.3">III:15</text></g>
<g id="H-III16"><use href="#sqH" x="548.4" y="1233.3" class="k"/><text x="548.4" y="1247.3">III:16</text><text x="548.4" y="1256.7">*</text></g>
<g id="H-III17"><use href="#ciH" x="589.4" y="1233.3" class="o"/><text x="589.4" y="1247.3">III:17</text></g>
<g id="H-III18"><use href="#sqH" x="629" y="1233.3" class="o"/><text x="629" y="1247.3">III:18</text></g>
<g id="H-III19"><use href="#sqH" x="673.4" y="1233.3" class="o"/><text x="673.4" y="1247.3">III:19</text><text x="673.4" y="1256.7">wt</text></g>
<g id="H-III20"><use href="#sqH" x="710.6" y="1233.3" class="o"/><text x="710.6" y="1247.3">III:20</text></g>
<g id="H-III21"><use href="#ciH" x="751" y="1233.3" class="o"/><text x="751" y="1247.3">III:21</text></g>
<g id="H-III22"><use href="#ciH" x="782.9" y="1233.3" class="o"/><text x="782.9" y="1247.3">III:22</text></g>
<g id="H-III23"><use href="#ciH" x="821.2" y="1233.3" class="o"/><use href="#slH" x="821.2" y="1233.3" class="ln"/><text x="821.2" y="1247.3">III:23</text></g>
<g id="H-III24"><use href="#ciH" x="861.5" y="1233.3" class="o"/><text x="861.5" y="1247.3">III:24</text></g>
<g id="H-III25"><use href="#sqH" x="892.7" y="1233.3" class="o"/><text x="892.7" y="1247.3">III:25</text></g>
<g id="H-III27"><use href="#sqH" x="924.6" y="1233.3" class="o"/><text x="924.6" y="1247.3">III:27</text></g>
<g id="H-III26"><use href="#ciH" x="959.9" y="1233.3" class="o"/><text x="959.9" y="1247.3">III:26</text></g>
<g id="H-III28"><use href="#sqH" x="997.5" y="1233.3" class="o"/><text x="997.5" y="1247.3">III:28</text></g>
<g id="H-III29"><use href="#sqH" x="1032.1" y="1233.3" class="o"/><text x="1032.1" y="1247.3">III:29</text></g>
<g id="H-IV1"><use href="#ciH" x="40.6" y="1347.7" class="o"/><text x="40.6" y="1362.3">IV:1</text></g>
<g id="H-IV2"><use href="#ciH" x="63.9" y="1347.7" class="o"/><text x="63.9" y="1362.3">IV:2</text></g>
<g id="H-IV3"><use href="#sqH" x="87.2" y="1347.7" class="o"/><text x="87.2" y="1362.3">IV:3</text></g>
<g id="H-IV4"><use href="#ciH" x="444" y="1347.7" class="o"/><text x="444" y="1362.3">IV:4</text></g>
<g id="H-IV5"><use href="#sqH" x="481" y="1347.7" class="k"/><text x="481" y="1362.3">IV:5</text></g>
<g id="H-IV6"><use href="#ciH" x="916.2" y="1347.7" class="o"/><text x="916.2" y="1362.3">IV:6</text></g>
<g id="H-IV7"><use href="#sqH" x="945.4" y="1347.7" class="o"/><text x="945.4" y="1362.3">IV:7</text></g>
<g id="H-IV8"><use href="#sqH" x="971.6" y="1347.7" class="o"/><use href="#slH" x="971.6" y="1347.7" class="ln"/><text x="971.6" y="1362.3">IV:8</text><text x="971.6" y="1371.7">MCA</text><text x="971.6" y="1381">Lethal</text></g>
</g>

<!-- ================= PANEL I ================= -->
<g id="panelI" style="stroke-width:1.2;font-size:7.5px">
<text class="hl" x="22" y="1424">I</text>
<text class="hn" x="60" y="1424">Arg611Cys</text>
<g id="I-links" class="ln"><path d="M274.4 1405H296.6M285.7 1405V1466.7M177.7 1466.7H666M177.7 1466.7V1482.3M213.3 1466.7V1482.3M249.3 1466.7V1482.3M285.7 1466.7V1482.3M366.7 1466.7V1482.3M402.7 1466.7V1482.3M439 1466.7V1482.3M520.7 1466.7V1482.3M556.7 1466.7V1482.3M593.3 1466.7V1482.3M630 1466.7V1482.3M666 1466.7V1482.3M147.4 1489H171M159.3 1489V1532.7M140.7 1532.7H285M140.7 1532.7V1550M176 1532.7V1550M213.3 1532.7V1550M249.3 1532.7V1550M285 1532.7V1550M335.7 1489H360M348.3 1489V1532.7M321.7 1532.7H371.7M321.7 1532.7V1550M371.7 1532.7V1550M481 1489H514M497.7 1489V1532.7M434.3 1532.7H538.3M434.3 1532.7V1550M470.7 1532.7V1550M538.3 1532.7L516 1550M538.3 1532.7L561 1550"/></g>
<text class="q" x="538.3" y="1545">?</text>
<g id="I-I1"><use href="#sqB" x="267.7" y="1405" class="o"/><text x="267.7" y="1424.3">I:1</text></g>
<g id="I-I2"><use href="#ciB" x="303.3" y="1405" class="o"/><use href="#dtB" x="303.3" y="1405" class="d"/><text x="303.3" y="1424.3">I:2</text></g>
<g id="I-II2"><use href="#sqB" x="140.7" y="1489" class="o"/><text x="140.7" y="1508.3">II:2</text></g>
<g id="I-II1"><use href="#ciB" x="177.7" y="1489" class="o"/><use href="#dtB" x="177.7" y="1489" class="d"/><text x="177.7" y="1508.3">II:1</text><text x="177.7" y="1518">*</text></g>
<g id="I-II3"><use href="#sqB" x="213.3" y="1489" class="o"/><use href="#slB" x="213.3" y="1489" class="ln"/><text x="213.3" y="1508.3">II:3</text></g>
<g id="I-II4"><use href="#sqB" x="249.3" y="1489" class="o"/><text x="249.3" y="1508.3">II:4</text></g>
<g id="I-II5"><use href="#ciB" x="285.7" y="1489" class="o"/><use href="#slB" x="285.7" y="1489" class="ln"/><text x="285.7" y="1508.3">II:5</text></g>
<g id="I-II7"><use href="#sqB" x="329" y="1489" class="o"/><text x="329" y="1508.3">II:7</text></g>
<g id="I-II6"><use href="#ciB" x="366.7" y="1489" class="o"/><text x="366.7" y="1508.3">II:6</text></g>
<g id="I-II8"><use href="#ciB" x="402.7" y="1489" class="o"/><text x="402.7" y="1508.3">II:8</text></g>
<g id="I-II9"><use href="#ciB" x="439" y="1489" class="o"/><text x="439" y="1508.3">II:9</text></g>
<g id="I-II11"><use href="#sqB" x="474.3" y="1489" class="o"/><text x="474.3" y="1508.3">II:11</text></g>
<g id="I-II10"><use href="#ciB" x="520.7" y="1489" class="o"/><use href="#dtB" x="520.7" y="1489" class="d"/><text x="520.7" y="1508.3">II:10</text><text x="520.7" y="1518">*</text></g>
<g id="I-II12"><use href="#sqB" x="556.7" y="1489" class="o"/><use href="#slB" x="556.7" y="1489" class="ln"/><text x="556.7" y="1508.3">II:12</text></g>
<g id="I-II13"><use href="#sqB" x="593.3" y="1489" class="o"/><use href="#slB" x="593.3" y="1489" class="ln"/><text x="593.3" y="1508.3">II:13</text></g>
<g id="I-II14"><use href="#ciB" x="630" y="1489" class="o"/><use href="#slB" x="630" y="1489" class="ln"/><text x="630" y="1508.3">II:14</text></g>
<g id="I-II15"><use href="#ciB" x="666" y="1489" class="o"/><use href="#slB" x="666" y="1489" class="ln"/><text x="666" y="1508.3">II:15</text></g>
<g id="I-III1"><use href="#sqB" x="140.7" y="1556.7" class="o"/><use href="#slB" x="140.7" y="1556.7" class="ln"/><text x="140.7" y="1575">III:1</text></g>
<g id="I-III2"><use href="#sqB" x="176" y="1556.7" class="k"/><use href="#slB" x="176" y="1556.7" class="ln"/><text x="176" y="1575">III:2</text><text x="176" y="1584.5">*</text><text x="176" y="1595.5">MCA</text><text x="176" y="1606">Lethal</text></g>
<g id="I-III3"><use href="#ciB" x="213.3" y="1556.7" class="o"/><text x="213.3" y="1575">III:3</text></g>
<g id="I-III4"><use href="#sqB" x="249.3" y="1556.7" class="k"/><use href="#slB" x="249.3" y="1556.7" class="ln"/><text x="249.3" y="1575">III:4</text><text x="249.3" y="1584.5">*</text><text x="249.3" y="1595.5">MCA</text><text x="249.3" y="1606">Lethal</text></g>
<g id="I-III5"><use href="#ciB" x="285" y="1556.7" class="o"/><text x="285" y="1575">III:5</text></g>
<g id="I-III6"><use href="#ciB" x="321.7" y="1556.7" class="o"/><text x="321.7" y="1575">III:6</text></g>
<g id="I-III7"><use href="#ciB" x="371.7" y="1556.7" class="o"/><text x="371.7" y="1575">III:7</text></g>
<g id="I-III8"><use href="#ciB" x="434.3" y="1556.7" class="o"/><text x="434.3" y="1575">III:8</text></g>
<g id="I-III9"><use href="#sqB" x="470.7" y="1556.7" class="k"/><use href="#slB" x="470.7" y="1556.7" class="ln"/><text x="470.7" y="1575">III:9</text><text x="470.7" y="1584.5">*</text><text x="470.7" y="1595.5">MCA</text><text x="470.7" y="1606">Lethal</text></g>
<g id="I-III10"><use href="#sqB" x="516" y="1556.7" class="k"/><text x="516" y="1575">III:10</text><text x="516" y="1584.5">*</text></g>
<g id="I-III11"><use href="#sqB" x="561" y="1556.7" class="k"/><use href="#slB" x="561" y="1556.7" class="ln"/><text x="561" y="1575">III:11</text><text x="561" y="1595.5">MCA</text><text x="561" y="1606">Lethal</text></g>
</g>
</svg>
